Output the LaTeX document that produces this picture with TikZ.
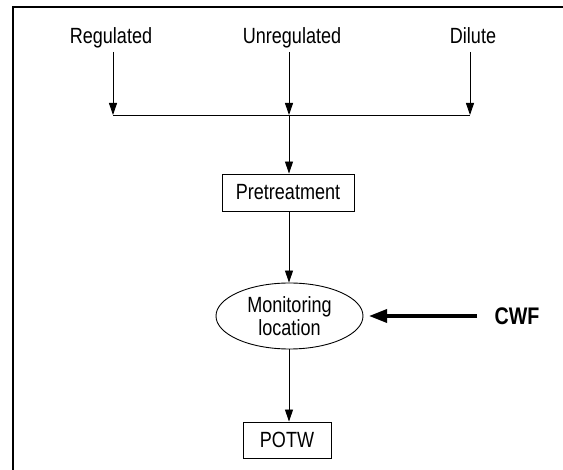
\documentclass[tikz,border=0pt]{standalone}
\usepackage{fontspec}
\setmainfont[FakeStretch=0.82]{Liberation Sans}
\usetikzlibrary{arrows.meta,shapes.geometric}
\begin{document}
\begin{tikzpicture}[x=1pt,y=-1pt,
  lbl/.style={font=\fontsize{22}{24}\selectfont, inner sep=0pt, anchor=base},
  boxnode/.style={draw, line width=0.9pt, inner sep=0pt, font=\fontsize{22}{24}\selectfont},
  ellnode/.style={draw, ellipse, line width=0.9pt, inner sep=0pt, align=center, font=\fontsize{22}{23}\selectfont},
  flow/.style={line width=0.9pt, -{Triangle[length=12pt,width=8pt]}},
  thickflow/.style={line width=3.5pt, -{Triangle[length=18pt,width=13pt]}},
  frameline/.style={line width=1.8pt}]
\useasboundingbox (0,0) rectangle (563,470);
% frame
\coordinate (ftl) at (13,7);
\coordinate (ftr) at (563,7);
\coordinate (fbl) at (13,470);
\draw[frameline] (fbl) -- (ftl) -- (ftr);
% labels
\node[lbl] (reg) at (111,44) {Regulated};
\node[lbl] (unreg) at (292,44) {Unregulated};
\node[lbl] (dil) at (473,44) {Dilute};
% junction points
\coordinate (j1) at (113,115);
\coordinate (j2) at (289,115);
\coordinate (j3) at (470,115);
\coordinate (s1) at (113,52);
\coordinate (s2) at (289,52);
\coordinate (s3) at (470,52);
\draw[flow] (s1) -- (j1);
\draw[flow] (s2) -- (j2);
\draw[flow] (s3) -- (j3);
\draw[line width=0.9pt] (j1) -- (j3);
% nodes
\node[boxnode, minimum width=132pt, minimum height=37pt] (pre) at (288,192.5) {Pretreatment};
\node[ellnode, minimum width=147pt, minimum height=66pt] (mon) at (289.5,316) {Monitoring\\location};
\node[boxnode, minimum width=88pt, minimum height=36pt] (potw) at (287,440) {POTW};
\node[font=\bfseries\fontsize{24}{26}\selectfont, inner sep=0pt, anchor=base] (cwf) at (517,325) {CWF};
\coordinate (cwft) at (477,316);
% connectors
\draw[flow] (j2) -- (j2 |- pre.north);
\draw[flow] (pre.south -| j2) -- (mon.north -| j2);
\draw[flow] (mon.south -| j2) -- (potw.north -| j2);
\draw[thickflow] (cwft) -- (369,316);
\end{tikzpicture}
\end{document}
